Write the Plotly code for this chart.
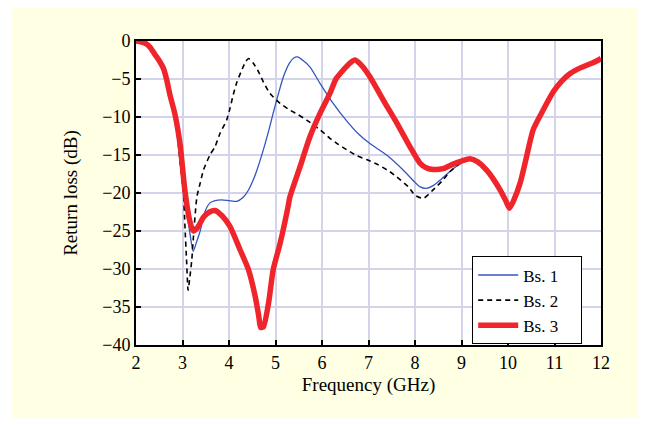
import plotly.graph_objects as go

# ---- data ----
red_f = [2.0, 2.1, 2.2, 2.3, 2.41, 2.5, 2.59, 2.66, 2.73, 2.84, 2.95, 3.05, 3.15, 3.23, 3.32,
         3.45, 3.58, 3.70, 3.85, 4.02, 4.24, 4.42, 4.56, 4.64, 4.68, 4.74, 4.85, 4.95, 5.10,
         5.27, 5.31, 5.53, 5.74, 5.96, 6.17, 6.30, 6.46, 6.60, 6.71, 6.85, 7.03, 7.32, 7.61,
         7.89, 8.11, 8.25, 8.39, 8.60, 8.82, 9.00, 9.18, 9.35, 9.54, 9.70, 9.83, 9.95, 10.03,
         10.12, 10.26, 10.40, 10.54, 10.72, 10.97, 11.15, 11.33, 11.50, 11.69, 11.85, 12.0]
red_db = [0.0, -0.1, -0.3, -0.8, -1.8, -2.6, -3.6, -5.1, -7.1, -9.7, -13.7, -19.6, -23.5, -25.0, -24.6,
          -23.2, -22.5, -22.3, -23.0, -24.4, -27.5, -30.1, -33.5, -36.2, -37.7, -37.6, -34.5, -30.1, -26.6,
          -21.8, -20.5, -16.5, -12.6, -9.5, -6.9, -5.0, -3.8, -2.9, -2.5, -3.2, -4.7, -7.8, -10.8,
          -13.9, -16.1, -16.7, -16.9, -16.8, -16.2, -15.8, -15.5, -15.9, -17.0, -18.3, -19.6, -21.0, -22.0,
          -21.0, -18.7, -15.2, -11.7, -9.5, -6.7, -5.3, -4.3, -3.7, -3.2, -2.8, -2.3]

blue_f = [2.0, 2.1, 2.2, 2.3, 2.41, 2.5, 2.59, 2.66, 2.73, 2.84, 2.95, 3.05, 3.16, 3.23, 3.30,
          3.38, 3.48, 3.59, 3.70, 3.84, 4.00, 4.17, 4.30, 4.42, 4.52, 4.60, 4.74, 4.85, 4.95,
          5.06, 5.17, 5.30, 5.40, 5.47, 5.60, 5.74, 5.96, 6.24, 6.53, 6.78, 7.03, 7.39, 7.75,
          8.00, 8.11, 8.24, 8.40, 8.54, 8.82, 9.04, 9.18, 9.35, 9.54, 9.70, 9.83, 9.95, 10.03,
          10.12, 10.26]
blue_db = [0.0, -0.1, -0.3, -0.8, -1.8, -2.6, -3.6, -5.1, -7.1, -9.7, -14.5, -20.5, -25.3, -27.7, -26.5,
           -25.0, -22.5, -21.3, -21.0, -20.9, -21.0, -21.1, -20.6, -19.6, -18.3, -17.0, -14.3, -11.9, -9.5,
           -7.0, -4.7, -2.9, -2.2, -2.1, -2.6, -3.4, -5.6, -8.2, -10.5, -12.2, -13.5, -15.0, -17.0,
           -18.6, -19.2, -19.4, -19.0, -18.3, -16.8, -15.9, -15.5, -15.9, -17.0, -18.3, -19.6, -21.0, -22.0,
           -21.0, -18.7]

black_f = [2.0, 2.1, 2.2, 2.3, 2.41, 2.5, 2.59, 2.66, 2.73, 2.84, 2.95, 3.02, 3.05, 3.09, 3.12,
           3.16, 3.20, 3.23, 3.31, 3.38, 3.45, 3.59, 3.70, 3.81, 3.95, 4.02, 4.09, 4.17, 4.27,
           4.35, 4.42, 4.52, 4.63, 4.74, 4.88, 5.10, 5.31, 5.49, 5.67, 5.96, 6.17, 6.35, 6.53,
           6.75, 6.96, 7.21, 7.46, 7.61, 7.86, 8.00, 8.18, 8.39, 8.60, 8.75, 8.97, 9.18, 9.35,
           9.54, 9.70, 9.83, 9.95, 10.03, 10.12, 10.26]
black_db = [0.0, -0.1, -0.3, -0.8, -1.8, -2.6, -3.6, -5.1, -7.1, -9.7, -16.1, -20.0, -24.0, -29.2, -32.8,
            -31.0, -28.8, -26.2, -20.5, -18.7, -17.0, -15.0, -13.9, -12.1, -10.4, -8.9, -7.1, -5.4, -3.9,
            -2.8, -2.3, -2.9, -4.0, -5.4, -6.9, -8.2, -9.1, -9.7, -10.4, -11.7, -12.8, -13.6, -14.3,
            -15.1, -15.6, -16.3, -17.2, -17.9, -19.2, -20.3, -20.7, -19.6, -18.3, -17.2, -16.1, -15.5, -15.9,
            -17.0, -18.3, -19.6, -21.0, -22.0, -21.0, -18.7]

series_names = ["Bs. 1", "Bs. 2", "Bs. 3"]
x_ticks = [2, 3, 4, 5, 6, 7, 8, 9, 10, 11, 12]
y_ticks = [0, -5, -10, -15, -20, -25, -30, -35, -40]

FONT = "Liberation Serif, Times New Roman, serif"
PAD = "\u2002\u2002"  # widen legend box to the right like the reference

fig = go.Figure()
fig.add_trace(go.Scatter(x=blue_f, y=blue_db, mode="lines", name=series_names[0] + PAD,
                         line=dict(color="#3355C0", width=1.3, shape="spline", smoothing=0.6)))
fig.add_trace(go.Scatter(x=black_f, y=black_db, mode="lines", name=series_names[1] + PAD,
                         line=dict(color="black", width=1.6, dash="5px,4px", shape="spline", smoothing=0.6)))
fig.add_trace(go.Scatter(x=red_f, y=red_db, mode="lines", name=series_names[2] + PAD,
                         line=dict(color="#F0252B", width=5.5, shape="spline", smoothing=0.6)))

# cream panel behind the chart, then white plot area
fig.add_shape(type="rect", xref="paper", yref="paper", x0=-0.2667, x1=1.0796, y0=-0.2401, y1=1.1086,
              fillcolor="#FFFFE3", line=dict(width=0), layer="below")
fig.add_shape(type="rect", xref="paper", yref="paper", x0=0, x1=1, y0=0, y1=1,
              fillcolor="white", line=dict(width=0), layer="below")

axis_common = dict(showline=True, linecolor="black", linewidth=2, mirror=True,
                   showgrid=True, gridcolor="#D3D3EA", gridwidth=2,
                   ticks="inside", ticklen=5, tickwidth=1.5, tickcolor="black",
                   zeroline=False, tickfont=dict(family=FONT, size=18, color="black"))

fig.update_xaxes(range=[2, 12], tickvals=x_ticks,
                 title=dict(text="Frequency (GHz)", font=dict(family=FONT, size=19, color="black"), standoff=6),
                 **axis_common)
fig.update_yaxes(range=[-40, 0], tickvals=y_ticks,
                 title=dict(text="Return loss (dB)", font=dict(family=FONT, size=19, color="black"), standoff=20),
                 **axis_common)

fig.update_layout(
    width=646, height=425,
    margin=dict(l=136, r=45, t=41, b=80),
    paper_bgcolor="white", plot_bgcolor="white",
    showlegend=True,
    legend=dict(x=0.7226, y=0.292, xanchor="left", yanchor="top",
                bgcolor="white", bordercolor="black", borderwidth=1.2,
                font=dict(family=FONT, size=17, color="black"),
                itemwidth=40, tracegroupgap=0),
)

fig.write_html("out.html")
